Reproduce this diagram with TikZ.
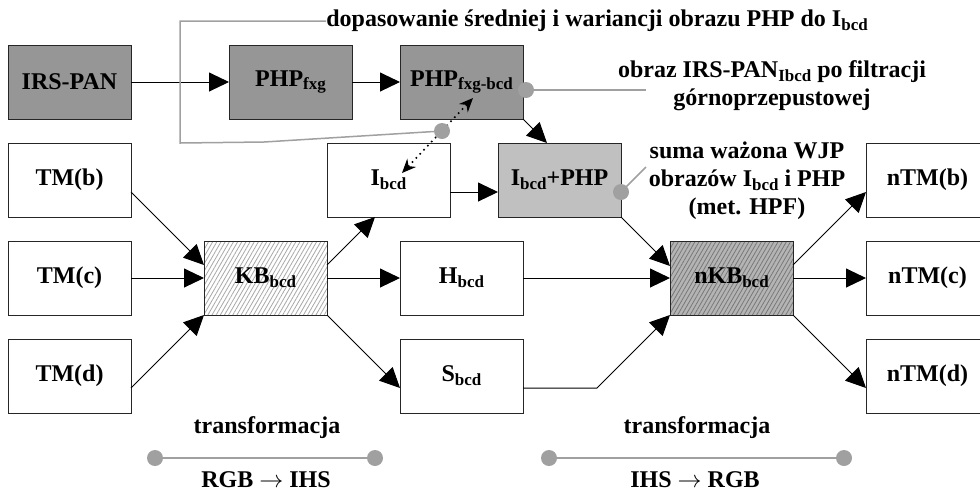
\documentclass[tikz,border=0pt]{standalone}
\usepackage{fontspec}
\setmainfont{Liberation Serif}
\usetikzlibrary{arrows.meta,patterns.meta}
\definecolor{darkbox}{HTML}{969696}
\definecolor{lightbox}{HTML}{C0C0C0}
\definecolor{guide}{HTML}{A0A0A0}
\definecolor{hatchlight}{HTML}{A8A8A8}
\definecolor{hatchbg}{HTML}{B4B4B4}
\definecolor{hatchdark}{HTML}{787878}
\newcommand\sbs[1]{\raisebox{-0.35ex}{\fontsize{8.5}{8.5}\selectfont #1}}
\begin{document}
\begin{tikzpicture}[x=0.5pt,y=-0.5pt,
  every node/.style={font=\bfseries\fontsize{12}{14}\selectfont},
  box/.style={draw=black!85,line width=0.5pt,minimum width=61.5pt,minimum height=37pt,inner sep=0pt,outer sep=0pt},
  darkfill/.style={box,fill=darkbox},
  lightfill/.style={box,fill=lightbox},
  hatchwhite/.style={box,preaction={fill=white},pattern={Lines[angle=60,distance=1.8pt,line width=0.4pt]},pattern color=hatchlight},
  hatchgray/.style={box,preaction={fill=hatchbg},pattern={Lines[angle=60,distance=1.8pt,line width=0.4pt]},pattern color=hatchdark},
  flow/.style={line width=0.5pt,-{Triangle[length=10pt,width=9.5pt]}},
  guideline/.style={draw=guide,line width=0.75pt},
  thickguide/.style={draw=guide,line width=1.3pt},
  dot/.style={circle,fill=guide,minimum size=8pt,inner sep=0pt,outer sep=0pt},
  note/.style={align=center,inner sep=0pt}
]
\useasboundingbox (0,0) rectangle (980,495);

% boxes
\node[darkfill] (irs) at (69.5,82) {IRS-PAN};
\node[darkfill] (fxg) at (290.5,82) {PHP\sbs{fxg}};
\node[darkfill] (fxgbcd) at (461.5,82) {PHP\sbs{fxg-bcd}};
\node[box] (tmb) at (69.5,180) {TM(b)};
\node[box] (tmc) at (69.5,278) {TM(c)};
\node[box] (tmd) at (69.5,376) {TM(d)};
\node[hatchwhite] (kb) at (265.5,278) {KB\sbs{bcd}};
\node[box] (ibcd) at (388.5,180) {I\sbs{bcd}};
\node[box] (hbcd) at (461.5,278) {H\sbs{bcd}};
\node[box] (sbcd) at (461.5,376) {S\sbs{bcd}};
\node[lightfill] (iphp) at (559.5,180) {I\sbs{bcd}+PHP};
\node[hatchgray] (nkb) at (731.5,278) {nKB\sbs{bcd}};
\node[box] (ntmb) at (927.5,180) {nTM(b)};
\node[box] (ntmc) at (927.5,278) {nTM(c)};
\node[box] (ntmd) at (927.5,376) {nTM(d)};

% flow arrows
\draw[flow] (irs.east) -- (fxg.west);
\draw[flow] (fxg.east) -- (fxgbcd.west);
\draw[flow] ([yshift=-6pt]tmb.east) -- ([yshift=6.5pt]kb.west);
\draw[flow] (tmc.east) -- (kb.west);
\draw[flow] ([yshift=-6pt]tmd.east) -- (kb.south west);
\draw[flow] ([yshift=6.5pt]kb.east) -- ([xshift=-6.75pt]ibcd.south);
\draw[flow] (kb.east) -- (hbcd.west);
\draw[flow] (kb.south east) -- ([yshift=-6pt]sbcd.west);
\draw[flow] ([yshift=-6pt]ibcd.east) -- ([yshift=-6pt]iphp.west);
\draw[flow] (fxgbcd.south east) -- ([xshift=-6.25pt]iphp.north);
\draw[flow] (hbcd.east) -- (nkb.west);
\draw[flow] (iphp.south east) -- ([yshift=6pt]nkb.west);
\draw[flow] ([yshift=-6pt]sbcd.east) -- ++(74,0) -- (nkb.south west);
\draw[flow] ([yshift=6.5pt]nkb.east) -- ([yshift=-6pt]ntmb.west);
\draw[flow] (nkb.east) -- (ntmc.west);
\draw[flow] (nkb.south east) -- ([yshift=-6pt]ntmd.west);

% annotation 1: matching mean and variance
\node[note,anchor=west] (topl) at (326,21) {dopasowanie średniej i wariancji obrazu PHP do I\sbs{bcd}};
\coordinate (c1) at (442,131);
\coordinate (d1) at (402,173);
\coordinate (d2) at (473,98);
\draw[guideline] (topl.west) -- (180,21) -- (180,143) -- (264,142) -- (c1);
\draw[line width=0.8pt,dotted,{Stealth[length=7pt,width=6pt]}-{Stealth[length=7pt,width=6pt]}] (d1) -- (d2);
\node[dot] (c1dot) at (c1) {};

% annotation 2: high-pass filtered image
\node[note] (hpf) at (772,86) {obraz IRS-PAN\sbs{Ibcd} po filtracji\\górnoprzepustowej};
\coordinate (e2) at (646,90);
\draw[guideline] (526,90) -- (e2);
\node[dot] (c2dot) at (526,90) {};

% annotation 3: weighted sum
\node[note] (wsum) at (747,181) {suma ważona WJP\\obrazów I\sbs{bcd} i PHP\\(met. HPF)};
\coordinate (e3) at (646,167);
\draw[guideline] (621,192) -- (e3);
\node[dot] (c3dot) at (621,192) {};

% bottom: transformations
\node (t1) at (267,428) {transformacja};
\node (r1) at (266,480) {RGB $\rightarrow$ IHS};
\node[dot] (g1) at (155,458) {};
\node[dot] (g2) at (375,458) {};
\draw[thickguide] (g1) -- (g2);

\node (t2) at (697,428) {transformacja};
\node (r2) at (695,480) {IHS $\rightarrow$ RGB};
\node[dot] (g3) at (549,458) {};
\node[dot] (g4) at (844,458) {};
\draw[thickguide] (g3) -- (g4);
\end{tikzpicture}
\end{document}
